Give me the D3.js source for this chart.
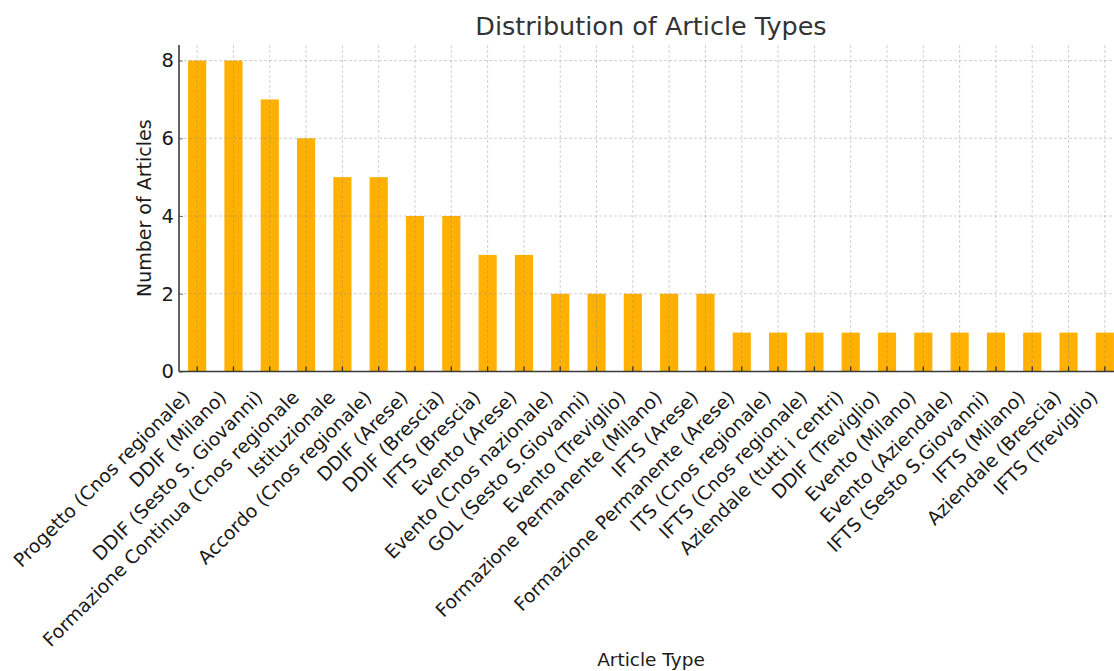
<!DOCTYPE html>
<html>
<head>
<meta charset="utf-8">
<script src="https://cdn.jsdelivr.net/npm/d3@7"></script>
<style>
  body { margin: 0; background: #fff; }
  svg { display: block; font-family: "DejaVu Sans", sans-serif; }
</style>
</head>
<body>
<div id="chart"></div>
<script>
// article types, in the order of the bars
const categories = [
  "Progetto (Cnos regionale)", "DDIF (Milano)", "DDIF (Sesto S. Giovanni)",
  "Formazione Continua (Cnos regionale", "Istituzionale", "Accordo (Cnos regionale)",
  "DDIF (Arese)", "DDIF (Brescia)", "IFTS (Brescia)", "Evento (Arese)",
  "Evento (Cnos nazionale)", "GOL (Sesto S.Giovanni)", "Evento (Treviglio)",
  "Formazione Permanente (Milano)", "IFTS (Arese)", "Formazione Permanente (Arese)",
  "ITS (Cnos regionale)", "IFTS (Cnos regionale)", "Aziendale (tutti i centri)",
  "DDIF (Treviglio)", "Evento (Milano)", "Evento (Aziendale)",
  "IFTS (Sesto S.Giovanni)", "IFTS (Milano)", "Aziendale (Brescia)", "IFTS (Treviglio)"
];
const counts = [8, 8, 7, 6, 5, 5, 4, 4, 3, 3, 2, 2, 2, 2, 2, 1, 1, 1, 1, 1, 1, 1, 1, 1, 1, 1];
const yTicks = [0, 2, 4, 6, 8];

const font = "DejaVu Sans, sans-serif";
const width = 1114, height = 671;
// plot area (right edge runs past the window, as in the original)
const margin = {left: 179, top: 45, right: 1123, bottom: 371.5};

const svg = d3.select("#chart").append("svg")
    .attr("width", width)
    .attr("height", height);

const x = d3.scaleBand()
    .domain(categories)
    .range([margin.left, margin.right])
    .padding(0);

const y = d3.scaleLinear()
    .domain([0, 8.4])
    .range([margin.bottom, margin.top]);

const barW = x.bandwidth() * 0.5;

// bars
svg.append("g")
  .selectAll("rect")
  .data(categories)
  .enter()
  .append("rect")
    .attr("x", d => x(d) + (x.bandwidth() - barW) / 2)
    .attr("y", (d, i) => y(counts[i]))
    .attr("width", barW)
    .attr("height", (d, i) => y(0) - y(counts[i]))
    .attr("fill", "#ffb000");

// grid, drawn over the bars
const grid = svg.append("g")
    .attr("stroke", "rgba(140,140,140,0.4)")
    .attr("stroke-width", 1)
    .attr("stroke-dasharray", "3,2");

grid.selectAll("line.v")
  .data(categories)
  .enter()
  .append("line")
    .attr("class", "v")
    .attr("x1", d => x(d) + x.bandwidth() / 2)
    .attr("x2", d => x(d) + x.bandwidth() / 2)
    .attr("y1", margin.top)
    .attr("y2", margin.bottom);

grid.selectAll("line.h")
  .data(yTicks)
  .enter()
  .append("line")
    .attr("class", "h")
    .attr("x1", margin.left)
    .attr("x2", margin.right)
    .attr("y1", d => y(d))
    .attr("y2", d => y(d));

// x axis: inward ticks, rotated labels
const xAxis = d3.axisBottom(x)
    .tickSizeInner(-5)
    .tickSizeOuter(0)
    .tickPadding(0);

const gx = svg.append("g")
    .attr("transform", `translate(0,${margin.bottom})`)
    .call(xAxis)
    .attr("font-family", font)
    .attr("font-size", "18.8px");

gx.select(".domain").remove();
gx.selectAll(".tick line")
    .attr("stroke", "#333")
    .attr("stroke-width", 1.3);
gx.selectAll(".tick text")
    .attr("fill", "#1a1a1a")
    .attr("text-anchor", "end")
    .attr("dy", null)
    .attr("y", null)
    .attr("transform", "translate(-6,27) rotate(-45)");

// y axis
const yAxis = d3.axisLeft(y)
    .tickValues(yTicks)
    .tickSizeInner(-4)
    .tickSizeOuter(0)
    .tickPadding(6);

const gy = svg.append("g")
    .attr("transform", `translate(${margin.left},0)`)
    .call(yAxis)
    .attr("font-family", font)
    .attr("font-size", "19.5px");

gy.select(".domain").remove();
gy.selectAll(".tick line")
    .attr("stroke", "#777")
    .attr("stroke-width", 1);
gy.selectAll(".tick text")
    .attr("fill", "#1a1a1a")
    .attr("x", -5);

// spines: left and bottom only
svg.append("line")
    .attr("x1", margin.left).attr("x2", margin.left)
    .attr("y1", margin.top).attr("y2", margin.bottom)
    .attr("stroke", "#3a3a3a").attr("stroke-width", 1.6);
svg.append("line")
    .attr("x1", margin.left).attr("x2", margin.right)
    .attr("y1", margin.bottom).attr("y2", margin.bottom)
    .attr("stroke", "#3a3a3a").attr("stroke-width", 1.6);

// title and axis labels
const cx = (margin.left + margin.right) / 2;

svg.append("text")
    .attr("x", cx)
    .attr("y", 35)
    .attr("text-anchor", "middle")
    .attr("font-family", font)
    .attr("font-size", "25.5px")
    .attr("fill", "#333")
    .text("Distribution of Article Types");

svg.append("text")
    .attr("x", cx)
    .attr("y", 666)
    .attr("text-anchor", "middle")
    .attr("font-family", font)
    .attr("font-size", "18.5px")
    .attr("fill", "#1a1a1a")
    .text("Article Type");

svg.append("text")
    .attr("transform", `translate(151,${(margin.top + margin.bottom) / 2}) rotate(-90)`)
    .attr("text-anchor", "middle")
    .attr("font-family", font)
    .attr("font-size", "19px")
    .attr("fill", "#1a1a1a")
    .text("Number of Articles");
</script>
</body>
</html>
